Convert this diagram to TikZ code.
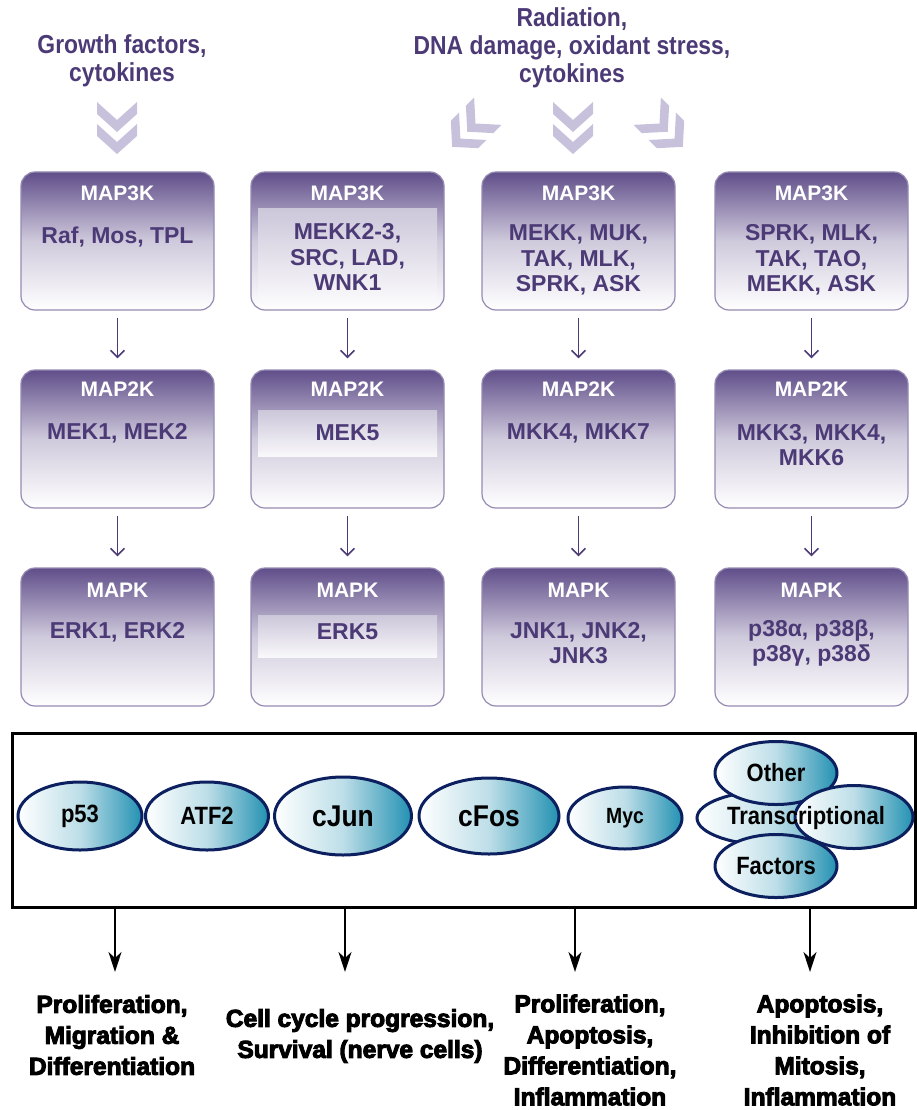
\documentclass[tikz,border=0pt]{standalone}
\usepackage{fontspec}
\setmainfont{Liberation Sans}
\newfontfamily\narrowsans[FakeStretch=0.88]{Liberation Sans}
\newfontfamily\heavysans[BoldFeatures={FakeBold=4}]{Liberation Sans}
\usetikzlibrary{arrows.meta,shapes.geometric}

\definecolor{mapText}{RGB}{76,58,118}
\definecolor{boxTop}{RGB}{96,78,138}
\definecolor{boxEdge}{RGB}{150,138,178}
\definecolor{chevFill}{RGB}{200,193,220}
\definecolor{ellEdge}{RGB}{12,32,95}
\definecolor{ellTeal}{RGB}{35,145,178}

\tikzset{
  kinase/.style={draw=boxEdge, line width=1.2pt, rounded corners=14pt,
    minimum width=193pt, minimum height=138pt,
    top color=boxTop, bottom color=white, middle color=boxTop!30!white},
  band/.style={top color=boxTop!32!white, bottom color=boxTop!4!white},
  ktitle/.style={text=white, font=\bfseries\fontsize{21}{21}\selectfont},
  klist/.style={text=mapText, align=center, font=\bfseries\fontsize{23}{25.5}\selectfont},
  kstep/.style={-{Straight Barb[length=7pt,width=14pt]}, draw=mapText, line width=1.6pt,
    shorten <=7pt, shorten >=11pt},
  cause/.style={text=mapText, align=center, font=\narrowsans\bfseries\fontsize{26}{28}\selectfont},
  tfac/.style={ellipse, draw=ellEdge, line width=3pt, inner sep=0pt,
    left color=white, right color=ellTeal, middle color=ellTeal!30!white,
    font=\narrowsans\bfseries\fontsize{25}{25}\selectfont},
  outarrow/.style={-{Stealth[length=20pt,width=13pt,inset=6pt]}, line width=2pt},
  outcome/.style={align=center, font=\heavysans\bfseries\fontsize{24.5}{31}\selectfont},
  chev/.style={fill=chevFill}
}
\newcommand{\dchev}{%
  \fill[chev] (-20,26) -- (0,8) -- (20,26) -- (20,14) -- (0,-4) -- (-20,14) -- cycle;
  \fill[chev] (-20,4) -- (0,-14) -- (20,4) -- (20,-8) -- (0,-26) -- (-20,-8) -- cycle;}

\begin{document}
\begin{tikzpicture}[x=1pt, y=1pt, >=Latex]
  \useasboundingbox (0,0) rectangle (917,-1110);

  % stimuli
  \node[cause] (gf) at (122,-61) {Growth factors,\\cytokines};
  \node[cause] (rad) at (572,-48) {Radiation,\\DNA damage, oxidant stress,\\cytokines};
  \begin{scope}[shift={(117,-128)}] \dchev \end{scope}
  \begin{scope}[shift={(573,-128)}] \dchev \end{scope}
  \begin{scope}[shift={(470,-129)}, rotate=-45, scale=0.97] \dchev \end{scope}
  \begin{scope}[shift={(665,-129)}, rotate=45, scale=0.97] \dchev \end{scope}

  % MAP3K
  \node[kinase] (k3a) at (117.5,-241) {};
  \node[kinase] (k3b) at (347.5,-241) {};
  \node[kinase] (k3c) at (578.5,-241) {};
  \node[kinase] (k3d) at (811.5,-241) {};
  \fill[band] (258,-208) rectangle (437,-300);
  \node[ktitle] (t3a) at (117.5,-193) {MAP3K};
  \node[ktitle] (t3b) at (347.5,-193) {MAP3K};
  \node[ktitle] (t3c) at (578.5,-193) {MAP3K};
  \node[ktitle] (t3d) at (811.5,-193) {MAP3K};
  \node[klist] (l3a) at (117.5,-237) {Raf, Mos, TPL};
  \node[klist] (l3b) at (347.5,-257) {MEKK2-3,\\SRC, LAD,\\WNK1};
  \node[klist] (l3c) at (578.5,-260) {MEKK, MUK,\\TAK, MLK,\\SPRK, ASK};
  \node[klist] (l3d) at (811.5,-260) {SPRK, MLK,\\TAK, TAO,\\MEKK, ASK};

  % MAP2K
  \node[kinase] (k2a) at (117.5,-439) {};
  \node[kinase] (k2b) at (347.5,-439) {};
  \node[kinase] (k2c) at (578.5,-439) {};
  \node[kinase] (k2d) at (811.5,-439) {};
  \fill[band] (258,-410) rectangle (437,-456);
  \node[ktitle] (t2a) at (117.5,-389) {MAP2K};
  \node[ktitle] (t2b) at (347.5,-389) {MAP2K};
  \node[ktitle] (t2c) at (578.5,-389) {MAP2K};
  \node[ktitle] (t2d) at (811.5,-389) {MAP2K};
  \node[klist] (l2a) at (117.5,-433) {MEK1, MEK2};
  \node[klist] (l2b) at (347.5,-433) {MEK5};
  \node[klist] (l2c) at (578.5,-433) {MKK4, MKK7};
  \node[klist] (l2d) at (811.5,-445) {MKK3, MKK4,\\MKK6};

  % MAPK
  \node[kinase] (k1a) at (117.5,-637) {};
  \node[kinase] (k1b) at (347.5,-637) {};
  \node[kinase] (k1c) at (578.5,-637) {};
  \node[kinase] (k1d) at (811.5,-637) {};
  \fill[band] (258,-615) rectangle (437,-657);
  \node[ktitle] (t1a) at (117.5,-590) {MAPK};
  \node[ktitle] (t1b) at (347.5,-590) {MAPK};
  \node[ktitle] (t1c) at (578.5,-590) {MAPK};
  \node[ktitle] (t1d) at (811.5,-590) {MAPK};
  \node[klist] (l1a) at (117.5,-632) {ERK1, ERK2};
  \node[klist] (l1b) at (347.5,-632) {ERK5};
  \node[klist] (l1c) at (578.5,-643) {JNK1, JNK2,\\JNK3};
  \node[klist] (l1d) at (811.5,-643) {p38α, p38β,\\p38γ, p38δ};

  \draw[kstep] (k3a) -- (k2a);
  \draw[kstep] (k3b) -- (k2b);
  \draw[kstep] (k3c) -- (k2c);
  \draw[kstep] (k3d) -- (k2d);
  \draw[kstep] (k2a) -- (k1a);
  \draw[kstep] (k2b) -- (k1b);
  \draw[kstep] (k2c) -- (k1c);
  \draw[kstep] (k2d) -- (k1d);

  % transcription factors
  \node[draw, line width=3pt, minimum width=903pt, minimum height=174pt] (tfbox) at (464,-820.5) {};
  \node[tfac, minimum width=124pt, minimum height=68pt] (p53) at (80,-816) {p53};
  \node[tfac, minimum width=123pt, minimum height=68pt] (atf) at (207,-816) {ATF2};
  \node[tfac, minimum width=137pt, minimum height=78pt, font=\narrowsans\bfseries\fontsize{30}{30}\selectfont] (jun) at (343,-816) {cJun};
  \node[tfac, minimum width=140pt, minimum height=76pt, font=\narrowsans\bfseries\fontsize{30}{30}\selectfont] (fos) at (489,-816) {cFos};
  \node[tfac, minimum width=114pt, minimum height=62pt, font=\narrowsans\bfseries\fontsize{22}{22}\selectfont] (myc) at (625,-818) {Myc};
  \node[tfac, minimum width=156pt, minimum height=55pt] (tcl) at (775,-818) {};
  \node[tfac, minimum width=122pt, minimum height=63pt] (oth) at (776,-773) {Other};
  \node[tfac, minimum width=118pt, minimum height=63pt] (tcr) at (854,-817) {};
  \node[tfac, minimum width=122pt, minimum height=63pt] (fac) at (776,-866) {Factors};
  \node[font=\narrowsans\bfseries\fontsize{25}{25}\selectfont] (tct) at (806,-818) {Transcriptional};

  % outcomes
  \coordinate (e1) at (115,-972);
  \coordinate (e2) at (345,-972);
  \coordinate (e3) at (575,-972);
  \coordinate (e4) at (810,-972);
  \draw[outarrow] (e1 |- tfbox.south) -- (e1);
  \draw[outarrow] (e2 |- tfbox.south) -- (e2);
  \draw[outarrow] (e3 |- tfbox.south) -- (e3);
  \draw[outarrow] (e4 |- tfbox.south) -- (e4);
  \node[outcome] (o1) at (112,-1035) {Proliferation,\\Migration \&\\Differentiation};
  \node[outcome] (o2) at (360,-1036) {Cell cycle progression,\\Survival (nerve cells)};
  \node[outcome] (o3) at (590,-1050) {Proliferation,\\Apoptosis,\\Differentiation,\\Inflammation};
  \node[outcome] (o4) at (820,-1050) {Apoptosis,\\Inhibition of\\Mitosis,\\Inflammation};
\end{tikzpicture}
\end{document}
